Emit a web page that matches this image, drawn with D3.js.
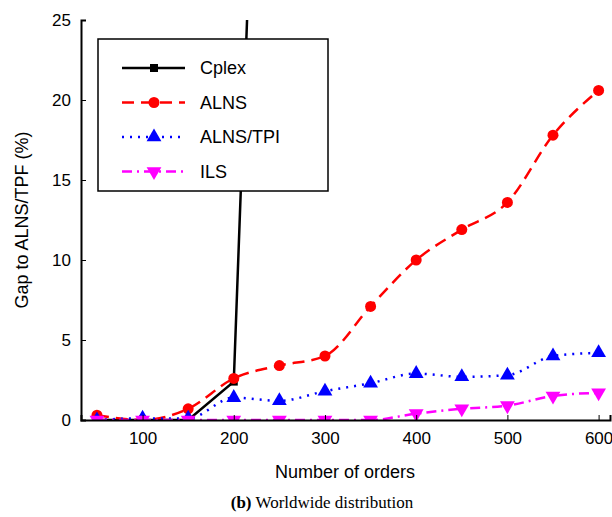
<!DOCTYPE html>
<html><head><meta charset="utf-8">
<script src="https://cdn.jsdelivr.net/npm/d3@7"></script>
<style>body{margin:0;background:#fff}text{font-family:"Liberation Sans",Arial,sans-serif}</style>
</head><body><svg id="c" width="612" height="517"></svg>
<script>
var orders = [50,100,150,200,250,300,350,400,450,500,550,600];
var cplex = [0,0,0,2.4,80];
var alns = [0.3,0,0.7,2.6,3.4,4.0,7.1,10.0,11.9,13.6,17.8,20.6];
var tpi = [0,0.1,0.1,1.4,1.2,1.8,2.3,2.9,2.7,2.8,4.0,4.2];
var ils = [0,0,0,0,0,0,0,0.4,0.7,0.9,1.5,1.7];
var xTicks = [100,200,300,400,500,600];
var yTicks = [0,5,10,15,20,25];

var svg = d3.select("#c");
var L = 81, R = 610, T = 20, B = 420;
var x = d3.scaleLinear().domain([32.5, 612.5]).range([L, R]);
var y = d3.scaleLinear().domain([0, 25]).range([B, T]);

svg.append("clipPath").attr("id","cp").append("rect")
  .attr("x",L).attr("y",T).attr("width",R-L).attr("height",B-T);

var series = [
  {name:"Cplex", vals:cplex, color:"#000", dash:null, sym:d3.symbolSquare, size:64, rot:0, curve:d3.curveLinear},
  {name:"ALNS", vals:alns, color:"#f00", dash:"12,7", sym:d3.symbolCircle, size:95, rot:0, curve:d3.curveMonotoneX},
  {name:"ALNS/TPI", vals:tpi, color:"#00f", dash:"2,6", sym:d3.symbolTriangle, size:95, rot:0, curve:d3.curveMonotoneX},
  {name:"ILS", vals:ils, color:"#f0f", dash:"10,5,2,5", sym:d3.symbolTriangle, size:95, rot:180, curve:d3.curveMonotoneX}
];

var g = svg.append("g").attr("clip-path","url(#cp)");
series.forEach(function(s){
  var pts = s.vals.map(function(v,i){ return [orders[i], v]; });
  g.append("path").attr("fill","none").attr("stroke",s.color).attr("stroke-width",2.5)
    .attr("stroke-dasharray",s.dash)
    .attr("d", d3.line().curve(s.curve).x(function(d){return x(d[0]);}).y(function(d){return y(d[1]);})(pts));
  g.selectAll(null).data(pts).enter().append("path")
    .attr("d", d3.symbol().type(s.sym).size(s.size))
    .attr("fill", s.color)
    .attr("transform", function(d){ return "translate("+x(d[0])+","+y(d[1])+") rotate("+s.rot+")"; });
});

var xa = svg.append("g").attr("transform","translate(0,"+B+")")
  .call(d3.axisBottom(x).tickValues(xTicks).tickSize(-5).tickPadding(12));
var ya = svg.append("g").attr("transform","translate("+L+",0)")
  .call(d3.axisLeft(y).tickValues(yTicks).tickSize(-5).tickPadding(10));
[xa, ya].forEach(function(a){
  a.select(".domain").attr("stroke-width",2).attr("stroke","#000");
  a.selectAll("text").attr("font-size",17).attr("fill","#000");
  a.selectAll(".tick line").attr("stroke","#000");
});

svg.append("text").attr("x",345).attr("y",478).attr("text-anchor","middle").attr("font-size",18).text("Number of orders");
svg.append("text").attr("transform","translate(28,220) rotate(-90)").attr("text-anchor","middle").attr("font-size",18).text("Gap to ALNS/TPF (%)");

var cap = svg.append("text").attr("x",322).attr("y",508).attr("text-anchor","middle")
  .attr("font-size",17).style("font-family","'Liberation Serif','DejaVu Serif',serif");
cap.append("tspan").attr("font-weight","bold").text("(b)");
cap.append("tspan").text(" Worldwide distribution");

var lg = svg.append("g");
lg.append("rect").attr("x",98).attr("y",39).attr("width",230).attr("height",152)
  .attr("fill","#fff").attr("stroke","#000").attr("stroke-width",1.5);
series.forEach(function(s,i){
  var yy = 68 + i*34.5;
  lg.append("line").attr("x1",122).attr("x2",185).attr("y1",yy).attr("y2",yy)
    .attr("stroke",s.color).attr("stroke-width",2.5).attr("stroke-dasharray",s.dash);
  lg.append("path").attr("d", d3.symbol().type(s.sym).size(s.size)).attr("fill",s.color)
    .attr("transform","translate(154,"+yy+") rotate("+s.rot+")");
  lg.append("text").attr("x",200).attr("y",yy+6).attr("font-size",18).text(s.name);
});
</script></body></html>
